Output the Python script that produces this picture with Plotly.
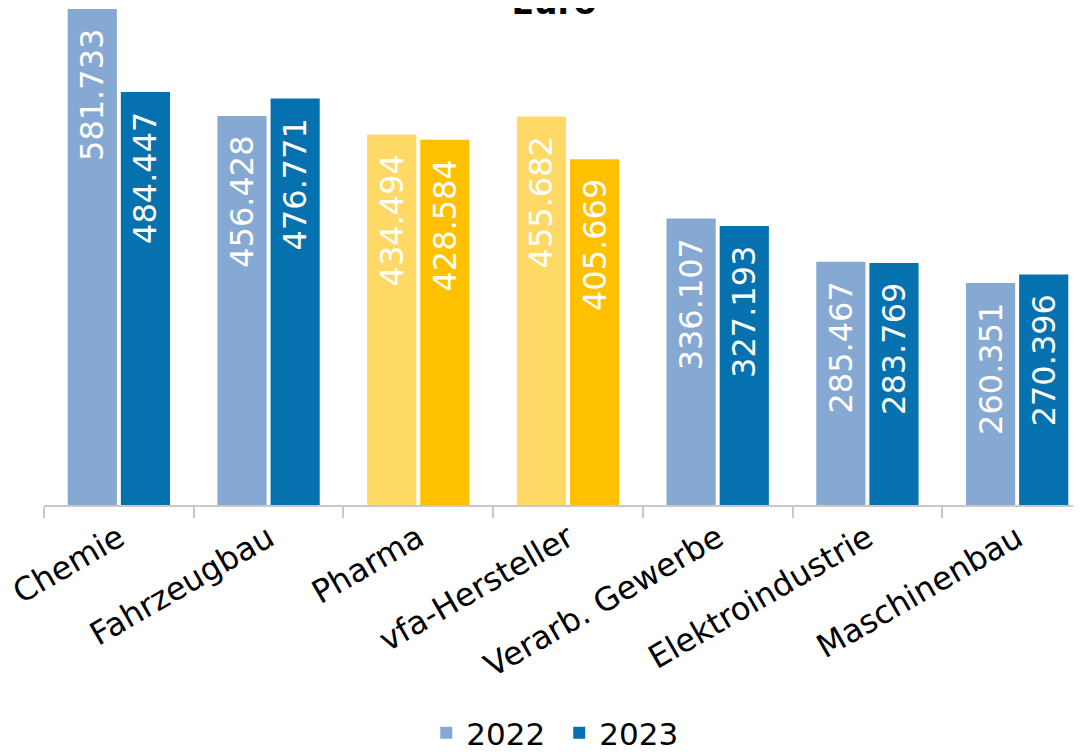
import plotly.graph_objects as go

categories = ["Chemie", "Fahrzeugbau", "Pharma", "vfa-Hersteller",
              "Verarb. Gewerbe", "Elektroindustrie", "Maschinenbau"]
values_2022 = [581733, 456428, 434494, 455682, 336107, 285467, 260351]
values_2023 = [484447, 476771, 428584, 405669, 327193, 283769, 270396]
highlight = ["Pharma", "vfa-Hersteller"]

c22, c23 = "#86A9D4", "#0571AE"
y22, y23 = "#FFD966", "#FFC000"
colors_22 = [y22 if c in highlight else c22 for c in categories]
colors_23 = [y23 if c in highlight else c23 for c in categories]

FONT = "DejaVu Sans"

fig = go.Figure()
for name, vals, cols in [("2022", values_2022, colors_22), ("2023", values_2023, colors_23)]:
    fig.add_trace(go.Bar(
        x=categories, y=vals, name=name,
        marker=dict(color=cols, line=dict(width=0)),
        texttemplate="%{y:,.0f}\u00a0\u2009",
        textposition="inside", textangle=-90, insidetextanchor="end",
        insidetextfont=dict(color="white", size=32, family=FONT),
        constraintext="none",
        hoverinfo="skip",
    ))

fig.update_layout(
    width=1081, height=752,
    barmode="group", bargap=0.29, bargroupgap=0.075,
    separators=",.",
    paper_bgcolor="white", plot_bgcolor="white",
    margin=dict(l=36, r=0, t=0, b=255, autoexpand=False),
    font=dict(family=FONT, size=31, color="black"),
    title=dict(text="<b>Euro</b>", x=546 / 1081, xanchor="center",
               y=1 - 6 / 752, yanchor="bottom", yref="container",
               font=dict(size=33, family=FONT, color="black")),
    xaxis=dict(range=[-0.5, 6.48], showline=True, linecolor="#C8C8C8", linewidth=2,
               ticks="outside", tickson="boundaries", ticklen=11, tickcolor="#C8C8C8",
               tickwidth=2, tickangle=-30, automargin=False,
               tickfont=dict(size=32, family=FONT)),
    yaxis=dict(range=[0, 583000], visible=False, showgrid=False, zeroline=False,
               automargin=False),
    legend=dict(orientation="h", x=533 / 1081, xanchor="center",
                y=0, yanchor="bottom", yref="container",
                font=dict(size=31, family=FONT), itemsizing="constant",
                entrywidth=88, entrywidthmode="pixels",
                traceorder="normal"),
    showlegend=True,
)

fig.write_html("out.html")
